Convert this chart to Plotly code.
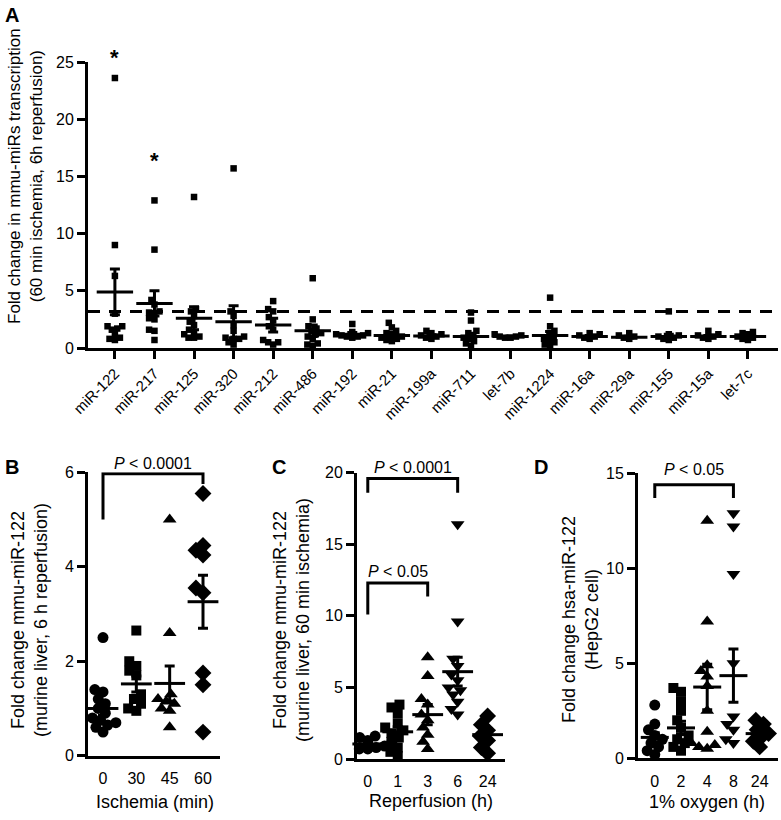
import math
import plotly.graph_objects as go

FONT = "Liberation Sans, Arial, Helvetica, sans-serif"
W, H = 781, 820

# ---------------- Panel A data ----------------
mirnas = ["miR-122", "miR-217", "miR-125", "miR-320", "miR-212", "miR-486", "miR-192",
          "miR-21", "miR-199a", "miR-711", "let-7b", "miR-1224", "miR-16a", "miR-29a",
          "miR-155", "miR-15a", "let-7c"]
a_values = [
    [23.6, 9.0, 6.3, 3.0, 1.9, 1.9, 1.7, 1.6, 1.2, 0.9, 0.8, 0.7],
    [12.9, 8.6, 4.2, 3.8, 3.2, 3.1, 3.0, 2.6, 2.5, 1.6, 1.5, 0.7],
    [13.2, 3.4, 3.2, 2.8, 2.3, 2.0, 1.6, 1.4, 1.2, 1.0, 0.9, 0.9],
    [15.7, 3.2, 2.8, 2.0, 1.5, 1.0, 0.9, 0.8, 0.8, 0.5, 0.3],
    [4.1, 3.4, 3.2, 2.7, 2.4, 1.9, 1.6, 0.7, 0.5, 0.5, 0.3],
    [6.1, 2.5, 1.9, 1.7, 1.5, 1.3, 1.2, 1.0, 0.8, 0.4, 0.3, 0.2],
    [2.1, 1.4, 1.3, 1.2, 1.1, 1.1, 1.0, 1.0, 0.9],
    [2.2, 1.8, 1.5, 1.3, 1.2, 1.0, 0.9, 0.8, 0.7, 0.6],
    [1.5, 1.3, 1.2, 1.1, 1.0, 0.9, 0.8],
    [3.1, 2.4, 1.5, 1.3, 1.1, 0.9, 0.8, 0.6, 0.4, 0.2],
    [1.2, 1.1, 1.0, 1.0, 0.9, 0.9],
    [4.4, 1.9, 1.5, 1.3, 1.0, 0.8, 0.7, 0.5, 0.3, 0.2],
    [1.3, 1.2, 1.1, 1.0, 0.9, 0.8],
    [1.3, 1.1, 1.0, 0.9, 0.8],
    [3.2, 1.2, 1.1, 1.0, 0.9, 0.8, 0.7],
    [1.5, 1.2, 1.1, 1.0, 0.9, 0.8],
    [1.4, 1.3, 1.2, 1.0, 0.9, 0.8, 0.7],
]
a_mean = [4.9, 3.9, 2.6, 2.3, 2.0, 1.5, 1.2, 1.1, 1.05, 1.0, 1.0, 1.1, 1.0, 0.95, 1.0, 1.0, 1.0]
a_sem = [2.0, 1.1, 1.0, 1.4, 0.6, 0.5, 0.15, 0.15, 0.1, 0.3, 0.05, 0.35, 0.1, 0.08, 0.2, 0.1, 0.1]
a_threshold = 3.2
a_star_idx = [0, 1]
a_star_y = [25.4, 16.4]
a_yticks = [0, 5, 10, 15, 20, 25]

# ---------------- Panel B data ----------------
b_cats = ["0", "30", "45", "60"]
b_values = [
    [2.5, 1.4, 1.35, 1.2, 1.1, 1.0, 0.9, 0.8, 0.75, 0.7, 0.65, 0.6, 0.5],
    [2.65, 2.0, 1.9, 1.8, 1.7, 1.3, 1.2, 1.1, 1.0, 0.95],
    [5.0, 2.6, 1.3, 1.2, 1.15, 1.1, 1.0, 0.95, 0.6],
    [5.55, 4.45, 4.35, 4.25, 3.55, 3.45, 1.75, 1.5, 0.5],
]
b_mean = [1.0, 1.52, 1.53, 3.26]
b_sem = [0.15, 0.17, 0.37, 0.56]
b_yticks = [0, 2, 4, 6]
b_brackets = [(0, 3, 5.0, 5.97, 5.75, "<i>P</i> < 0.0001", 6.18)]

# ---------------- Panel C data ----------------
c_cats = ["0", "1", "3", "6", "24"]
c_values = [
    [1.6, 1.5, 1.3, 1.2, 1.0, 0.9, 0.8, 0.8, 0.7, 0.7],
    [3.8, 3.6, 3.2, 2.5, 2.2, 2.0, 1.8, 1.5, 1.2, 0.8, 0.5, 0.2],
    [7.1, 5.8, 4.2, 3.8, 3.1, 2.7, 2.2, 1.7, 1.2, 0.7],
    [16.4, 9.6, 7.0, 6.5, 5.9, 5.5, 5.0, 4.8, 4.5, 4.0, 3.5, 3.1],
    [3.0, 2.4, 2.0, 1.6, 1.3, 0.8, 0.4],
]
c_mean = [1.05, 1.9, 3.1, 6.1, 1.7]
c_sem = [0.1, 0.35, 0.7, 1.0, 0.4]
c_yticks = [0, 5, 10, 15, 20]
c_brackets = [(0, 3, 18.6, 19.6, 18.6, "<i>P</i> < 0.0001", 20.35),
              (0, 2, 10.1, 12.3, 11.35, "<i>P</i> < 0.05", 13.1)]

# ---------------- Panel D data ----------------
d_cats = ["0", "2", "4", "8", "24"]
d_values = [
    [2.8, 1.8, 1.5, 1.2, 1.0, 0.8, 0.6, 0.4, 0.2],
    [3.7, 3.5, 3.0, 2.5, 2.0, 1.6, 1.2, 1.0, 0.8, 0.6, 0.4],
    [12.5, 7.2, 4.9, 4.6, 4.3, 3.8, 2.5, 1.4, 0.8, 0.7, 0.6, 0.5],
    [12.9, 12.2, 9.7, 5.0, 2.2, 1.8, 1.5, 1.0, 0.8],
    [2.0, 1.8, 1.5, 1.3, 1.1, 0.9, 0.6],
]
d_mean = [1.1, 1.6, 3.75, 4.35, 1.3]
d_sem = [0.25, 0.35, 1.2, 1.4, 0.2]
d_yticks = [0, 5, 10, 15]
d_brackets = [(0, 3, 13.7, 14.4, 13.7, "<i>P</i> < 0.05", 15.2)]

symbols = ["circle", "square", "triangle-up", "triangle-down", "diamond"]
sym_size = {"circle": 11, "square": 10, "triangle-up": 12, "triangle-down": 12, "diamond": 13}

# ---------------- geometry (pixels) ----------------
panels = {
    # name: (x0, x1, ytop, ybot, xrange, yrange)
    "A": (88, 778, 62, 348, [-0.68, 16.76], [0, 25]),
    "B": (88, 220, 472.3, 755.7, [-0.45, 3.51], [0, 6]),
    "C": (357, 505, 472.7, 759, [-0.36, 4.58], [0, 20]),
    "D": (638, 778, 473.3, 758.3, [-0.64, 4.7], [0, 15]),
}


def swarm(vals, sx, sy, d):
    """Deterministic beeswarm offsets (in data x units)."""
    order = sorted(range(len(vals)), key=lambda i: vals[i])
    placed = []
    res = [0.0] * len(vals)
    for i in order:
        yp = vals[i] * sy
        cands = [0.0]
        excl = []
        for xp, yq in placed:
            dy = abs(yp - yq)
            if dy < d:
                dx = math.sqrt(d * d - dy * dy)
                excl.append((xp - dx, xp + dx))
                cands += [xp - dx, xp + dx]
        best = 0.0
        for c in sorted(cands, key=lambda c: (abs(c), c)):
            if all(not (lo + 1e-6 < c < hi - 1e-6) for lo, hi in excl):
                best = c
                break
        placed.append((best, yp))
        res[i] = best / sx
    return res


fig = go.Figure()
axis_ids = {"A": ("x", "y"), "B": ("x2", "y2"), "C": ("x3", "y3"), "D": ("x4", "y4")}


def scales(p):
    x0, x1, yt, yb, xr, yr = panels[p]
    sx = (x1 - x0) / (xr[1] - xr[0])
    sy = (yb - yt) / (yr[1] - yr[0])
    return sx, sy


def add_points(p, values, sym_list, spacing):
    xa, ya = axis_ids[p]
    sx, sy = scales(p)
    for i, vals in enumerate(values):
        sym = sym_list[i]
        size = sym_size.get(sym, 9) if p != "A" else 6.5
        offs = swarm(vals, sx, sy, spacing)
        fig.add_trace(go.Scatter(
            x=[i + o for o in offs], y=vals, mode="markers",
            marker=dict(symbol=sym, size=size, color="black", line=dict(width=0)),
            xaxis=xa, yaxis=ya, cliponaxis=False, showlegend=False, hoverinfo="y"))


def add_mean_sem(p, means, sems, length, cap):
    xa, ya = axis_ids[p]
    fig.add_trace(go.Scatter(
        x=list(range(len(means))), y=means, mode="markers",
        marker=dict(symbol="line-ew", size=length, color="black",
                    line=dict(width=3, color="black")),
        error_y=dict(type="data", array=sems, thickness=3, width=cap, color="black"),
        xaxis=xa, yaxis=ya, cliponaxis=False, showlegend=False, hoverinfo="y"))


def add_label(p, x, y, text, size):
    """Text placed at data coordinates (y converted to axis-domain fraction so
    it may sit above the axis range without being hidden)."""
    xa, ya = axis_ids[p]
    yr = panels[p][5]
    yfrac = (y - yr[0]) / (yr[1] - yr[0])
    fig.add_annotation(x=x, y=yfrac, xref=xa, yref=ya + " domain", text=text,
                       showarrow=False, font=dict(family=FONT, size=size, color="black"),
                       xanchor="center", yanchor="middle")


def add_brackets(p, brackets):
    xa, ya = axis_ids[p]
    for (c0, c1, yl, ytop, yr, label, ylab) in brackets:
        fig.add_trace(go.Scatter(
            x=[c0, c0, c1, c1], y=[yl, ytop, ytop, yr], mode="lines",
            line=dict(color="black", width=3), xaxis=xa, yaxis=ya,
            showlegend=False, hoverinfo="skip"))
        add_label(p, (c0 + c1) / 2, ylab, label, 16)


# Panel A
add_points("A", a_values, ["square"] * len(a_values), 5.5)
add_mean_sem("A", a_mean, a_sem, 26, 5)
for idx, yy in zip(a_star_idx, a_star_y):
    add_label("A", idx, yy, "<b>*</b>", 22)
fig.add_shape(type="line", xref="x domain", yref="y", x0=0, x1=1,
              y0=a_threshold, y1=a_threshold,
              line=dict(color="black", width=3, dash="12px,9px"))

# Panels B, C, D
add_points("B", b_values, ["circle", "square", "triangle-up", "diamond"], 8.5)
add_mean_sem("B", b_mean, b_sem, 22, 5)
add_brackets("B", b_brackets)

add_points("C", c_values, symbols, 8.5)
add_mean_sem("C", c_mean, c_sem, 22, 5)
add_brackets("C", c_brackets)

add_points("D", d_values, symbols, 8.5)
add_mean_sem("D", d_mean, d_sem, 20, 5)
add_brackets("D", d_brackets)

# ---------------- axes ----------------
tickfont = dict(family=FONT, size=16, color="black")


def axis_common():
    return dict(showgrid=False, zeroline=False, showline=True, linewidth=3,
                linecolor="black", tickfont=tickfont, fixedrange=True, automargin=False)


layout_axes = {}
for p, (xa, ya) in axis_ids.items():
    x0, x1, yt, yb, xr, yr = panels[p]
    xkey = "xaxis" + xa[1:]
    ykey = "yaxis" + ya[1:]
    xd = dict(axis_common(), domain=[x0 / W, x1 / W], range=xr, anchor=ya)
    yd = dict(axis_common(), domain=[1 - yb / H, 1 - yt / H], range=yr, anchor=xa,
              ticks="outside", ticklen=8, tickwidth=3, tickcolor="black")
    layout_axes[xkey] = xd
    layout_axes[ykey] = yd

layout_axes["xaxis"].update(tickvals=list(range(len(mirnas))), ticktext=mirnas,
                            tickangle=-45, ticks="outside", ticklen=8, tickwidth=3,
                            tickcolor="black", tickfont=dict(family=FONT, size=15, color="black"))
layout_axes["yaxis"].update(tickvals=a_yticks)
for key, cats in (("xaxis2", b_cats), ("xaxis3", c_cats), ("xaxis4", d_cats)):
    layout_axes[key].update(tickvals=list(range(len(cats))), ticktext=cats,
                            ticks="outside", ticklen=6, tickcolor="rgba(0,0,0,0)")
layout_axes["yaxis2"].update(tickvals=b_yticks)
layout_axes["yaxis3"].update(tickvals=c_yticks)
layout_axes["yaxis4"].update(tickvals=d_yticks)

fig.update_layout(template="none", width=W, height=H, margin=dict(l=0, r=0, t=0, b=0, pad=0),
                  paper_bgcolor="white", plot_bgcolor="white",
                  font=dict(family=FONT, color="black"), showlegend=False,
                  **layout_axes)

# ---------------- titles / labels ----------------
def ann(text, px, py, size=18, angle=0, bold=False):
    fig.add_annotation(x=px / W, y=1 - py / H, xref="paper", yref="paper",
                       text=("<b>%s</b>" % text) if bold else text, showarrow=False,
                       textangle=angle, font=dict(family=FONT, size=size, color="black"),
                       xanchor="center", yanchor="middle")


ann("A", 12, 15, 20, bold=True)
ann("B", 12, 467, 20, bold=True)
ann("C", 279, 467, 20, bold=True)
ann("D", 541, 467, 20, bold=True)

ann("Fold change in mmu-miRs transcription<br>(60 min ischemia, 6h reperfusion)", 26, 176, 17, -90)
ann("Fold change mmu-miR-122<br>(murine liver, 6 h reperfusion)", 29, 620, 18, -90)
ann("Fold change mmu-miR-122<br>(murine liver, 60 min ischemia)", 291, 620, 18, -90)
ann("Fold change hsa-miR-122<br>(HepG2 cell)", 580, 620, 18, -90)
ann("Ischemia (min)", 155, 802, 18)
ann("Reperfusion (h)", 431, 801, 18)
ann("1% oxygen (h)", 707, 802, 18)

fig.write_html("out.html", config={"displayModeBar": False},
               post_script="document.body.style.margin='0';")
